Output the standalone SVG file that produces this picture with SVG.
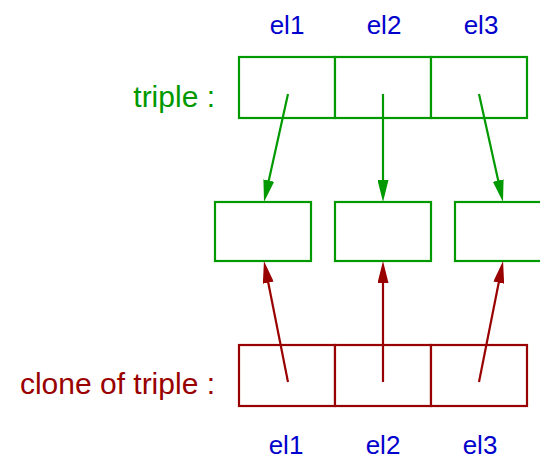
<svg xmlns="http://www.w3.org/2000/svg" width="540" height="459" viewBox="0 0 540 459">
<style>
.g{fill:#fff;stroke:#009900;stroke-width:2.2}
.r{fill:#fff;stroke:#990000;stroke-width:2.2}
.gl{stroke:#009900;stroke-width:2.2;fill:none}
.rl{stroke:#990000;stroke-width:2.2;fill:none}
.t{font-family:"Liberation Sans",Arial,sans-serif}
.blue{fill:#0000cc;font-size:26px;text-anchor:middle}
</style>
<defs>
<marker id="ag" markerUnits="userSpaceOnUse" markerWidth="22" markerHeight="11" refX="11" refY="5.5" orient="auto"><path d="M0,0 L22,5.5 L0,11 z" fill="#009900"/></marker>
<marker id="ar" markerUnits="userSpaceOnUse" markerWidth="22" markerHeight="11" refX="11" refY="5.5" orient="auto"><path d="M0,0 L22,5.5 L0,11 z" fill="#990000"/></marker>
</defs>
<g id="labels-top" class="t blue">
<text x="287" y="34">el1</text>
<text x="384" y="34">el2</text>
<text x="481" y="34">el3</text>
</g>
<g id="triple">
<text class="t" x="215" y="107" font-size="30" fill="#009900" text-anchor="end">triple :</text>
<rect class="g" x="239" y="57" width="96" height="61"/>
<rect class="g" x="335" y="57" width="96" height="61"/>
<rect class="g" x="431" y="57" width="96" height="61"/>
</g>
<g id="obj1"><rect class="g" x="215" y="202" width="96" height="59"/></g>
<g id="obj2"><rect class="g" x="335" y="202" width="96" height="59" stroke="#0a800a"/></g>
<g id="obj3"><rect class="g" x="455" y="202" width="96" height="59"/></g>
<g id="clone">
<text class="t" x="215" y="394" font-size="30" fill="#990000" text-anchor="end">clone of triple :</text>
<rect class="r" x="239" y="345" width="96" height="61"/>
<rect class="r" x="335" y="345" width="96" height="61"/>
<rect class="r" x="431" y="345" width="96" height="61"/>
</g>
<g id="labels-bottom" class="t blue">
<text x="286" y="454">el1</text>
<text x="383" y="454">el2</text>
<text x="480" y="454">el3</text>
</g>
<g id="connectors">
<line class="gl" x1="288" y1="94" x2="266.4" y2="191.3" marker-end="url(#ag)"/>
<line class="gl" x1="383" y1="94" x2="383" y2="191" marker-end="url(#ag)"/>
<line class="gl" x1="479" y1="94" x2="500.6" y2="191.3" marker-end="url(#ag)"/>
<line class="rl" x1="288" y1="382" x2="266.1" y2="271.8" marker-end="url(#ar)"/>
<line class="rl" x1="383" y1="382" x2="383" y2="272" marker-end="url(#ar)"/>
<line class="rl" x1="479" y1="382" x2="500.9" y2="271.8" marker-end="url(#ar)"/>
</g>
</svg>
